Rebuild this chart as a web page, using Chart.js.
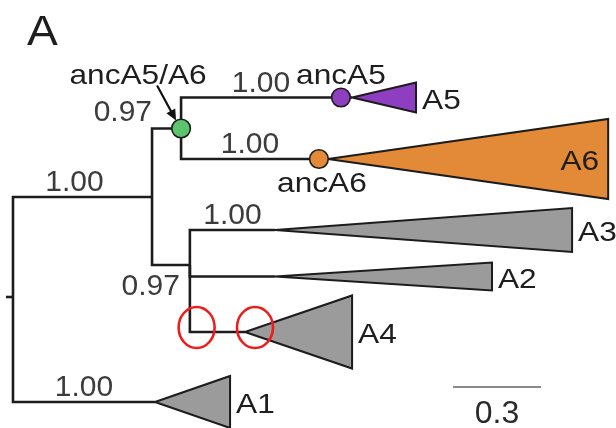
<!DOCTYPE html>
<html>
<head>
<meta charset="utf-8">
<title>Phylogeny A1–A6</title>
<script src="https://cdn.jsdelivr.net/npm/chart.js@4.4.0/dist/chart.umd.min.js"></script>
<style>
  html, body { margin: 0; padding: 0; background: #ffffff; }
  #wrap { width: 616px; height: 428px; }
  canvas { display: block; }
</style>
</head>
<body>
<div id="wrap"><canvas id="tree" width="616" height="428"></canvas></div>
<script>
// Internal nodes: distance from the root (substitutions/site) and vertical row.
const nodeIds    = ['root', 'n1', 'ancA5A6', 'ancA5', 'ancA6', 'n234'];
const nodeParent = [null, 'root', 'n1', 'ancA5A6', 'ancA5A6', 'n1'];
const nodeDist   = [0, 0.474, 0.573, 1.118, 1.043, 0.603];
const nodeRow    = [29.7, 19.7, 12.85, 9.75, 15.9, 26.5];

// Collapsed clades: where the wedge begins, its deepest leaf and its half height in rows.
const cladeNames  = ['A5', 'A6', 'A3', 'A2', 'A4', 'A1'];
const cladeParent = ['ancA5', 'ancA6', 'n234', 'n234', 'n234', 'root'];
const cladeRow    = [9.75, 15.9, 23.0, 27.65, 33.2, 40.2];
const cladeHalf   = [1.5, 4.0, 2.2, 1.4, 3.65, 2.6];
const cladeStart  = [1.156, 1.074, 0.893, 0.893, 0.791, 0.484];
const cladeDepth  = [1.374, 2.029, 1.906, 1.633, 1.156, 0.740];

// Posterior support on the branch leading to each node or clade.
const supportAt    = ['n1', 'ancA5A6', 'ancA5', 'ancA6', 'A3', 'n234', 'A1'];
const supportValue = [1.00, 0.97, 1.00, 1.00, 1.00, 0.97, 1.00];

// Reconstructed ancestors.
const ancestorNodes  = ['ancA5A6', 'ancA5', 'ancA6'];
const ancestorLabels = ['ancA5/A6', 'ancA5', 'ancA6'];

// Scale bar (substitutions/site).
const scaleBarLength = 0.3;
const scaleBarStart  = 1.5;
const scaleBarRow    = 38.7;

// Spots circled along the A4 lineage.
const markDist = [0.626, 0.825];
const markRow  = 32.75;

// ---- styling ----
const ink = '#1c1c1c';
const fills = { A5: '#8E3EC0', A6: '#E38A38', A3: '#9B9B9B', A2: '#9B9B9B', A4: '#9B9B9B', A1: '#9B9B9B' };
const ancestorFill = { ancA5A6: '#5BC46C', ancA5: '#8E3EC0', ancA6: '#E38A38' };
const FONT = "'Liberation Sans', Arial, Helvetica, sans-serif";
const LABEL_SIZE = 28, LABEL_STRETCH = 1.13;

function pos(id) {
  const i = nodeIds.indexOf(id);
  if (i >= 0) return { x: nodeDist[i], y: nodeRow[i] };
  const j = cladeNames.indexOf(id);
  return { x: cladeStart[j], y: cladeRow[j] };
}
function parentOf(id) {
  const i = nodeIds.indexOf(id);
  if (i >= 0) return nodeParent[i];
  return cladeParent[cladeNames.indexOf(id)];
}

// Rectangular (elbow) branch from parent to child.
function elbow(p, c) {
  return {
    data: [{ x: p.x, y: p.y }, { x: p.x, y: c.y }, { x: c.x, y: c.y }],
    showLine: true, fill: false, borderColor: ink, borderWidth: 2.6,
    borderJoinStyle: 'miter', borderCapStyle: 'butt',
    pointRadius: 0, order: 3, clip: false
  };
}

const datasets = [];

// Root stem
const rootPos = pos('root');
datasets.push({
  data: [{ x: rootPos.x - 0.024, y: rootPos.y }, { x: rootPos.x, y: rootPos.y }],
  showLine: true, fill: false, borderColor: ink, borderWidth: 2.6, pointRadius: 0, order: 3, clip: false
});

nodeIds.forEach((id, i) => {
  if (nodeParent[i]) datasets.push(elbow(pos(nodeParent[i]), pos(id)));
});
cladeNames.forEach((id, j) => {
  datasets.push(elbow(pos(cladeParent[j]), pos(id)));
});

// Clade wedges
cladeNames.forEach((id, j) => {
  datasets.push({
    data: [
      { x: cladeStart[j], y: cladeRow[j] },
      { x: cladeDepth[j], y: cladeRow[j] - cladeHalf[j] },
      { x: cladeDepth[j], y: cladeRow[j] + cladeHalf[j] },
      { x: cladeStart[j], y: cladeRow[j] }
    ],
    showLine: true, fill: 'shape', backgroundColor: fills[id],
    borderColor: ink, borderWidth: 2, borderJoinStyle: 'miter',
    pointRadius: 0, order: 2, clip: false
  });
});

// Ancestor markers
datasets.push({
  data: ancestorNodes.map(id => pos(id)),
  showLine: false,
  pointRadius: 9.3,
  pointBackgroundColor: ancestorNodes.map(id => ancestorFill[id]),
  pointBorderColor: ink,
  pointBorderWidth: 1.6,
  order: 1, clip: false
});

// Scale bar
datasets.push({
  data: [{ x: scaleBarStart, y: scaleBarRow }, { x: scaleBarStart + scaleBarLength, y: scaleBarRow }],
  showLine: true, fill: false, borderColor: '#8a8a8a', borderWidth: 2, pointRadius: 0, order: 3, clip: false
});

function drawText(ctx, str, x, y, size, align, color, stretch) {
  const sx = stretch || 1;
  ctx.save();
  ctx.translate(x, y);
  ctx.scale(sx, 1);
  ctx.font = size + 'px ' + FONT;
  ctx.textAlign = align;
  ctx.textBaseline = 'alphabetic';
  ctx.fillStyle = color;
  ctx.fillText(str, 0, 0);
  ctx.restore();
}
const label = (ctx, str, x, y, align) =>
  drawText(ctx, str, x, y, LABEL_SIZE, align, '#1e1e1e', LABEL_STRETCH);

const annotations = {
  id: 'treeAnnotations',
  afterDatasetsDraw(chart) {
    const ctx = chart.ctx;
    const X = chart.scales.x, Y = chart.scales.y;
    const px = v => X.getPixelForValue(v);
    const py = v => Y.getPixelForValue(v);
    const numColor = '#3c3c3c';

    // Panel letter
    drawText(ctx, 'A', 27, 45, 42, 'left', '#1e1e1e', 1.1);

    // Support values
    supportAt.forEach((id, k) => {
      const c = pos(id), p = pos(parentOf(id));
      const str = supportValue[k].toFixed(2);
      if (id === 'ancA5A6') {
        drawText(ctx, str, px(p.x), py(c.y) - 8, 30, 'right', numColor);
      } else if (id === 'n234') {
        drawText(ctx, str, px(c.x) - 10, py(c.y) + 30, 30, 'right', numColor);
      } else {
        const shift = id === 'n1' ? -8 : 0;
        drawText(ctx, str, (px(p.x) + px(c.x)) / 2 + shift, py(c.y) - 6, 30, 'center', numColor);
      }
    });

    // Clade names
    cladeNames.forEach((id, j) => {
      const xr = px(cladeDepth[j]), yc = py(cladeRow[j]);
      if (id === 'A6') label(ctx, id, xr - 9, yc + 11, 'right');
      else label(ctx, id, xr + 6, yc + 11, 'left');
    });

    // Ancestor names
    ancestorNodes.forEach((id, k) => {
      const c = pos(id);
      const x = px(c.x), y = py(c.y);
      if (id === 'ancA5') label(ctx, ancestorLabels[k], x, y - 14, 'center');
      else if (id === 'ancA6') label(ctx, ancestorLabels[k], x + 3, y + 33, 'center');
      else {
        label(ctx, ancestorLabels[k], x - 43, y - 45, 'center');
        // pointer arrow to the node
        const x0 = x - 24, y0 = y - 43, x1 = x - 5, y1 = y - 8;
        const ang = Math.atan2(y1 - y0, x1 - x0);
        ctx.save();
        ctx.strokeStyle = '#111';
        ctx.fillStyle = '#111';
        ctx.lineWidth = 2.2;
        ctx.beginPath();
        ctx.moveTo(x0, y0);
        ctx.lineTo(x1 - 8 * Math.cos(ang), y1 - 8 * Math.sin(ang));
        ctx.stroke();
        ctx.beginPath();
        ctx.moveTo(x1, y1);
        ctx.lineTo(x1 - 11 * Math.cos(ang) + 5 * Math.sin(ang), y1 - 11 * Math.sin(ang) - 5 * Math.cos(ang));
        ctx.lineTo(x1 - 11 * Math.cos(ang) - 5 * Math.sin(ang), y1 - 11 * Math.sin(ang) + 5 * Math.cos(ang));
        ctx.closePath();
        ctx.fill();
        ctx.restore();
      }
    });

    // Scale bar label
    drawText(ctx, String(scaleBarLength), (px(scaleBarStart) + px(scaleBarStart + scaleBarLength)) / 2, py(scaleBarRow) + 36, 32, 'center', '#2a2a2a');

    // Circled spots
    ctx.save();
    ctx.strokeStyle = '#EE1C1C';
    ctx.lineWidth = 2.6;
    markDist.forEach(d => {
      ctx.beginPath();
      ctx.ellipse(px(d), py(markRow), 18, 20.5, 0, 0, Math.PI * 2);
      ctx.stroke();
    });
    ctx.restore();
  }
};

new Chart(document.getElementById('tree'), {
  type: 'scatter',
  data: { datasets },
  options: {
    responsive: false,
    animation: false,
    events: [],
    layout: { padding: 0, autoPadding: false },
    plugins: { legend: { display: false }, tooltip: { enabled: false } },
    scales: {
      x: { type: 'linear', display: false, min: -0.0443, max: 2.0557 },
      y: { type: 'linear', display: false, min: 0, max: 42.8, reverse: true }
    }
  },
  plugins: [annotations]
});
</script>
</body>
</html>
